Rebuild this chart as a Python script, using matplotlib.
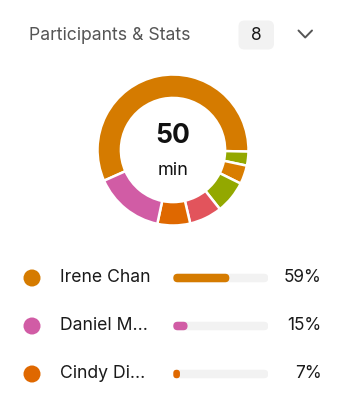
import matplotlib.pyplot as plt
from matplotlib.patches import FancyBboxPatch

plt.rcParams['font.family'] = ['Inter', 'DejaVu Sans']

# donut shares (clockwise from lower left)
shares = [57, 3, 4, 7, 7, 7, 15]
share_colors = ['#D57B00', '#93A800', '#D97D00', '#93A800', '#E2545C', '#DF6800', '#D15CA5']

total_minutes = 50
participant_count = 8

names = ['Irene Chan', 'Daniel M...', 'Cindy Di...']
percents = [59, 15, 7]
name_colors = ['#D57B00', '#D15CA5', '#DF6800']

W, H = 345, 399
fig = plt.figure(figsize=(W / 100, H / 100), dpi=100)

# overlay in pixel coords
ax = fig.add_axes([0, 0, 1, 1])
ax.set_xlim(0, W)
ax.set_ylim(H, 0)
ax.axis('off')

ax.text(29, 35, 'Participants & Stats', fontsize=12.7, color='#555555', va='center', ha='left')
ax.add_patch(FancyBboxPatch((238.5, 20.5), 35.5, 29, boxstyle='round,pad=0,rounding_size=6',
                            fc='#F2F2F2', ec='none'))
ax.text(256.2, 35, str(participant_count), fontsize=12.5, color='#1a1a1a', va='center', ha='center')
ax.plot([298.5, 305.2, 312], [30.5, 37.5, 30.5], color='#555555', lw=1.4,
        solid_capstyle='round', solid_joinstyle='round')

# donut
pax = fig.add_axes([96 / W, (H - 227) / H, 154 / W, 154 / H])
pax.pie(shares, colors=share_colors, startangle=204, counterclock=False, radius=1,
        wedgeprops=dict(width=0.31, edgecolor='white', linewidth=1.8))
pax.set_xlim(-1.02, 1.02)
pax.set_ylim(-1.02, 1.02)
pax.axis('off')
pax.text(0, 0.185, str(total_minutes), fontsize=19, fontweight='bold', color='#111111',
         ha='center', va='center')
pax.text(0, -0.27, 'min', fontsize=13, color='#111111', ha='center', va='center')

# rows
row_y = [278, 326, 374]
for y, n, p, c in zip(row_y, names, percents, name_colors):
    ax.scatter([32], [y], s=150, color=c, edgecolors='none')
    ax.text(59.5, y, n, fontsize=12.7, color='#1a1a1a', va='center', ha='left')
    ax.text(321.5, y, f'{p}%', fontsize=12.4, color='#1a1a1a', va='center', ha='right')

# progress bars: x in percent, rows by index (48 px apart)
bax = fig.add_axes([173.3 / W, (H - 398) / H, 95 / W, 144 / H])
bax.set_xlim(0, 100)
bax.set_ylim(len(names) - 0.5, -0.5)
bax.axis('off')
px_per_x = 95 / 100
px_per_y = 144 / len(names)
bar_h = 8.5 / px_per_y
aspect = px_per_x / px_per_y
for i, (p, c) in enumerate(zip(percents, name_colors)):
    for w, col in [(100, '#F2F2F2'), (p, c)]:
        r = min(4.25, w * px_per_x / 2) / px_per_x
        bax.add_patch(FancyBboxPatch((0, i - bar_h / 2), w, bar_h,
                                     boxstyle=f'round,pad=0,rounding_size={r}',
                                     mutation_aspect=aspect, fc=col, ec='none'))

fig.savefig('out.png', dpi=100)
